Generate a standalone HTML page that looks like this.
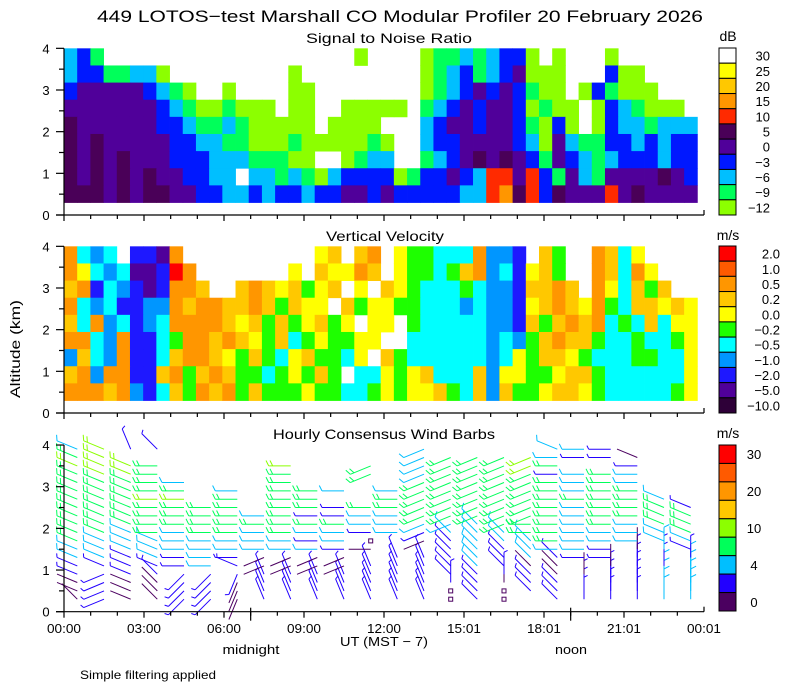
<!DOCTYPE html>
<html><head><meta charset="utf-8"><title>449 LOTOS-test Profiler</title>
<style>
html,body{margin:0;padding:0;background:#fff;}
svg{display:block;font-family:"Liberation Sans",sans-serif;}
</style></head>
<body>
<svg id="chart" width="800" height="700" viewBox="0 0 800 700" xmlns="http://www.w3.org/2000/svg">
<rect x="0" y="0" width="800" height="700" fill="#fff"/>
<text x="400" y="22" text-anchor="middle" font-size="17" textLength="606" lengthAdjust="spacingAndGlyphs">449 LOTOS−test Marshall CO Modular Profiler 20 February 2026</text>
<text x="389" y="43" text-anchor="middle" font-size="14" textLength="166" lengthAdjust="spacingAndGlyphs">Signal to Noise Ratio</text>
<text x="385" y="241" text-anchor="middle" font-size="14" textLength="118" lengthAdjust="spacingAndGlyphs">Vertical Velocity</text>
<text x="384" y="439" text-anchor="middle" font-size="14" textLength="222" lengthAdjust="spacingAndGlyphs">Hourly Consensus Wind Barbs</text>
<text x="0" y="0" transform="translate(20,349) rotate(-90)" text-anchor="middle" font-size="14" textLength="98" lengthAdjust="spacingAndGlyphs">Altitude (km)</text>
<text x="384" y="646" text-anchor="middle" font-size="13" textLength="88" lengthAdjust="spacingAndGlyphs">UT  (MST − 7)</text>
<text x="251" y="654" text-anchor="middle" font-size="13" textLength="57" lengthAdjust="spacingAndGlyphs">midnight</text>
<text x="571" y="654" text-anchor="middle" font-size="13" textLength="32" lengthAdjust="spacingAndGlyphs">noon</text>
<text x="80" y="679" font-size="12" textLength="136" lengthAdjust="spacingAndGlyphs">Simple filtering applied</text>
<g id="layer"></g>
</svg>
<script>
// ===== DATA =====
const hourTickLabels = ["00:00","03:00","06:00","09:00","12:00","15:01","18:01","21:01","00:01"];
const altitudeTickLabels = ["0","1","2","3","4"];
const heatStartHour = 0;
const heatEndHour = 23.75;
const heatColumns = 48;
const heatBottomKm = 0.3;
const heatTopKm = 4.0;
const snrLevelKeys = ["W","Y","y","o","r","d","p","b","c","G","g"];
const snrLevelLabels = ["30","25","20","15","10","5","0","−3","−6","−9","−12"];
const snrLevelColors = ["#ffffff","#ffff00","#ffc800","#ff9600","#ff2a00","#4a0058","#50009a","#0018ff","#00bfff","#00ff5a","#8cff00"];
const snrRows = [
"cbG...................g....gGGcGcbbg.g...g......",
"cbbGGccg.........g.........gGcbGcbpggg...bgg....",
"bpppppbcGg..g....gg........gGcbpbpbGgg.gbGggg...",
"pppppppbcGggGggg.gg..ggggg.GcbpbppbgGgg.gbcGggg.",
"dppppppbbcGGcGggggg.gggg...cbppbppbGgbg.gbccGccc",
"dpdpppppbbccGGgggGgggggGg..cbbppppbcgpcGGbbcbcbb",
"dpdpdpppbbbcccGGGgg..gGcc..GcbpdpdpbGpbcGcbbbcbb",
"dpdpdpdppbbcc.ccGcGgcbbbbgGbbpbcrrprbGpcGppppdpb",
"dddpdpddppbbccbcbbcbbppbpbbbbbccrodrbdppprpdpppp"
];
const vvLevelKeys = ["R","O","o","y","Y","g","c","b","B","p","k"];
const vvLevelLabels = ["2.0","1.0","0.5","0.2","0.0","−0.2","−0.5","−1.0","−2.0","−5.0","−10.0"];
const vvLevelColors = ["#ff0000","#ff5a00","#ff9600","#ffc800","#ffff00","#1eff00","#00ffff","#0096ff","#1e18ff","#50009a","#2e0038"];
const vvRows = [
"ocbc.BBpo..........Yy.yo.YggcccobbB.yg..oycY....",
"oYcbcppBRo.......Y.yYYoy.YggcgyobcBYyg..oycoY...",
"yoBcbBpBooy..yoyYygYy.Y.yYgcccgcbbByyoy.oYcygy..",
"ocbcBBbboyooyyoygyYY.ygYYggcccbcbbBYyoyYogcyyYyY",
"ycobcBbcooooyYygygYygY.YY.gcccccbbBygyoyocgcycYY",
"oocboBBcgooyoyYgycgYggYY..ccccccbcbgyoyygccgccgY",
"bycboBBcyooyYgygcYyggcY.ygccccccbcYgyyYgcccggccY",
"yobooBByogyoyggcgYgyg.ccYgYycccybYYggYyygccccccY",
"oooyobBcygoyogygggYggccgYgYYygcybyggYyyYgcccccgY"
];
const barbHours = [0.5,1.5,2.5,3.5,4.5,5.5,6.5,7.5,8.5,9.5,10.5,11.5,12.5,13.5,14.5,15.5,16.5,17.5,18.5,19.5,20.5,21.5,22.5,23.5];
const barbAltitudes = [0.3,0.5,0.7,0.9,1.1,1.3,1.5,1.7,1.9,2.1,2.3,2.5,2.7,2.9,3.1,3.3,3.5,3.7,3.9];
const barbSpeedLabels = ["30","20","10","4","0"];
const barbLevelColors = ["#ff0000","#ff5a00","#ff9600","#ffc800","#8cff00","#00ff5a","#00bfff","#2200ff","#4b0060"];
const barbSpeed = [
"0001122333333333432",
"1111122233333334444",
"00011122233333344.1",
"00011222333343333.1",
"111111222333432....",
"111122223333.......",
"00011122333332.....",
"11110022232........",
"11110022333333334..",
"11110021231333.....",
"111100122311.2.....",
"11111.001223...33..",
"111111..222332.....",
"111111.012333332222",
"001111112233333333.",
"1111222222333333332",
"0001111223333333334",
".11102223333333344.",
"1110012333333331322",
"1110.12222223222.12",
"1111011223333333.11",
"111111022233332210.",
"2222112223332......",
"222221123331......."
];
const barbDir = [
"EDDDDDDDDDDDDDDDDDD",
"BBBBDDDDDDDDDDDDDDD",
"DDDDDDDDDDDDDDDDD.F",
"EEEEDDDDCCCCCCCCC.E",
"AAAACCCCCCCCCCC....",
"AAAACCCCCCCC.......",
"9999DCCCCCCCCC.....",
"FFFFBBCCCCC........",
"FFFFBBCCCCCCCCCCC..",
"FFFFBBCCCCCCCC.....",
"FFFFBBCCCCCC.C.....",
"FFFFF.CqCCCC...BB..",
"FFFFFF..CCCCCC.....",
"FFFFFF.BBBBBBBBBBBB",
"qq0EEEEEEBBBBBBBBB.",
"EEEEEEEEEEBBBBBBBB.",
"qq00EEEEEBBBBBBBBB.",
"EEEEEEEECCBBBBBBBB.",
"EEEEEECCCCCCCCCCCCD",
"0000.CCCCCCCCCCC.CC",
"00000CCCCCCCCCCC.CC",
"0000000CCCCCCCCCCD.",
"0000000DDDDDD......",
"000000DDDDDD......."
];
const barbClassColors = ["#4b0060","#2200ff","#00bfff","#00ff5a","#8cff00"];

// ===== SCALES =====
const X0 = 64, X1 = 704, PXH = (X1 - X0) / 24, PXKM = 166.67 / 4;
const panelBases = [215, 413, 611.7];
function xScale(h){ return X0 + h * PXH; }
function yScale(panel, km){ return panelBases[panel] - km * PXKM; }

const NS = "http://www.w3.org/2000/svg";
const layer = document.getElementById("layer");
function mk(tag, attrs, parent){
  const el = document.createElementNS(NS, tag);
  for (const k in attrs) el.setAttribute(k, attrs[k]);
  (parent || layer).appendChild(el);
  return el;
}

// ===== HEATMAPS =====
function drawHeat(panel, rows, keys, colors, name){
  const g = mk("g", {});
  
  
  const nR = rows.length;
  const dKm = (heatTopKm - heatBottomKm) / nR;
  const dH = (heatEndHour - heatStartHour) / heatColumns;
  rows.forEach((row, r) => {
    const kmTop = heatTopKm - r * dKm, kmBot = kmTop - dKm;
    for (let c = 0; c < heatColumns; c++) {
      const idx = keys.indexOf(row[c]);
      if (idx < 0) continue;
      const h0 = heatStartHour + c * dH, h1 = h0 + dH;
      const x = xScale(h0), w = xScale(h1) - x;
      const y = yScale(panel, kmTop), hh = yScale(panel, kmBot) - y;
      const cell = mk("rect", {x: x.toFixed(2), y: y.toFixed(2), width: (w + 0.4).toFixed(2), height: (hh + 0.4).toFixed(2), fill: colors[idx]}, g);
      
      
    }
  });
}
drawHeat(0, snrRows, snrLevelKeys, snrLevelColors, "snr-heatmap");
drawHeat(1, vvRows, vvLevelKeys, vvLevelColors, "velocity-heatmap");

// ===== WIND BARBS =====
const barbG = mk("g", {"stroke-width": "1", fill: "none"});


barbHours.forEach((hr, k) => {
  const sp = barbSpeed[k] || "", dr = barbDir[k] || "";
  barbAltitudes.forEach((alt, i) => {
    const s = sp[i], d = dr[i];
    if (s === undefined || s === "." || d === undefined || d === ".") return;
    const cls = parseInt(s, 10);
    const col = barbClassColors[cls] || barbClassColors[0];
    const sx = xScale(hr), sy = yScale(2, alt);
    if (d === "q") {
      const sq = mk("rect", {x: (sx - 2).toFixed(1), y: (sy - 2).toFixed(1), width: 4, height: 4, stroke: col}, barbG);
      
      
      return;
    }
    const th = parseInt(d, 16) * 22.5 * Math.PI / 180;
    const L = 22;
    const ux = Math.sin(th), uy = -Math.cos(th);
    const ex = sx + ux * L, ey = sy + uy * L;
    let p = "M" + sx.toFixed(1) + " " + sy.toFixed(1) + "L" + ex.toFixed(1) + " " + ey.toFixed(1);
    const px = -uy, py = ux;
    const nF = cls >= 3 ? 2 : (cls >= 1 ? 1 : 0);
    for (let f = 0; f < nF; f++) {
      const bx = ex - ux * f * 4, by = ey - uy * f * 4;
      const fl = (cls === 1 && f === 0) ? 4 : 6;
      const fx = bx + (px * 0.9 + ux * 0.45) * fl, fy = by + (py * 0.9 + uy * 0.45) * fl;
      p += "M" + bx.toFixed(1) + " " + by.toFixed(1) + "L" + fx.toFixed(1) + " " + fy.toFixed(1);
    }
    const path = mk("path", {d: p, stroke: col}, barbG);
    
    
  });
});

// ===== AXES =====
const axG = mk("g", {stroke: "#000", "stroke-width": "1.2", fill: "none"});


const lblG = mk("g", {"font-size": "13", fill: "#000"});


[0, 1, 2].forEach(panel => {
  const base = panelBases[panel], top = yScale(panel, 4);
  const yl = mk("line", {x1: X0, y1: top, x2: X0, y2: base}, axG);
  
  
  const xl = mk("line", {x1: X0 - 8, y1: base, x2: X1, y2: base}, axG);
  
  
  for (let v = 0; v <= 8; v++) {
    const km = v / 2, y = yScale(panel, km);
    const tk = mk("line", {x1: X0 - (v % 2 ? 5 : 8), y1: y, x2: X0, y2: y}, axG);
    
    
  }
  altitudeTickLabels.forEach((t, i) => {
    const tx = mk("text", {x: 46, y: (yScale(panel, i) + 5).toFixed(1), "text-anchor": "middle"}, lblG);
    tx.textContent = t;
    
    
  });
  for (let h = 0; h <= 24; h++) {
    const x = xScale(h);
    const len = h === 24 ? -5 : (h % 3 === 0 ? 6 : 4);
    const tk = mk("line", {x1: x, y1: base, x2: x, y2: base + len}, axG);
    
    
  }
});
[7, 19].forEach(h => {
  const x = xScale(h);
  const m = mk("line", {x1: x, y1: panelBases[2] - 4, x2: x, y2: panelBases[2] + 9}, axG);
  
  
});
hourTickLabels.forEach((t, i) => {
  const tx = mk("text", {x: xScale(i * 3).toFixed(1), y: 633, "text-anchor": "middle", textLength: 34, lengthAdjust: "spacingAndGlyphs"}, lblG);
  tx.textContent = t;
  
  
});

// ===== COLORBARS =====
function colorbar(top, bottom, colors, labels, unit, unitX, unitY, labelMode, name){
  const g = mk("g", {});
  
  
  const n = colors.length, bh = (bottom - top) / n;
  colors.forEach((c, i) => {
    const r = mk("rect", {x: 719, y: (top + i * bh).toFixed(2), width: 17, height: bh.toFixed(2), fill: c, stroke: "#000", "stroke-width": "1"}, g);
    
    
  });
  labels.forEach((t, i) => {
    let y, x, anchor;
    if (labelMode === "box") { y = top + (i + 0.5) * bh + 5; x = 770; anchor = "end"; }
    else if (labelMode === "box2") { y = top + (i + 0.5) * bh + 5; x = 780; anchor = "end"; }
    else { y = top + (2 * i + 0.5) * bh + 5; x = 754; anchor = "middle"; }
    const tx = mk("text", {x: x, y: y.toFixed(1), "text-anchor": anchor, "font-size": "13"}, g);
    tx.textContent = t;
    
    
  });
  const u = mk("text", {x: unitX, y: unitY, "text-anchor": "middle", "font-size": "14"}, g);
  u.textContent = unit;
  
  
}
colorbar(48, 215, snrLevelColors, snrLevelLabels, "dB", 728, 41, "box", "snr-colorbar");
colorbar(246, 413, vvLevelColors, vvLevelLabels, "m/s", 728, 240, "box2", "velocity-colorbar");
colorbar(445, 611, barbLevelColors, barbSpeedLabels, "m/s", 728, 438, "barb", "barb-colorbar");
</script>
</body></html>
